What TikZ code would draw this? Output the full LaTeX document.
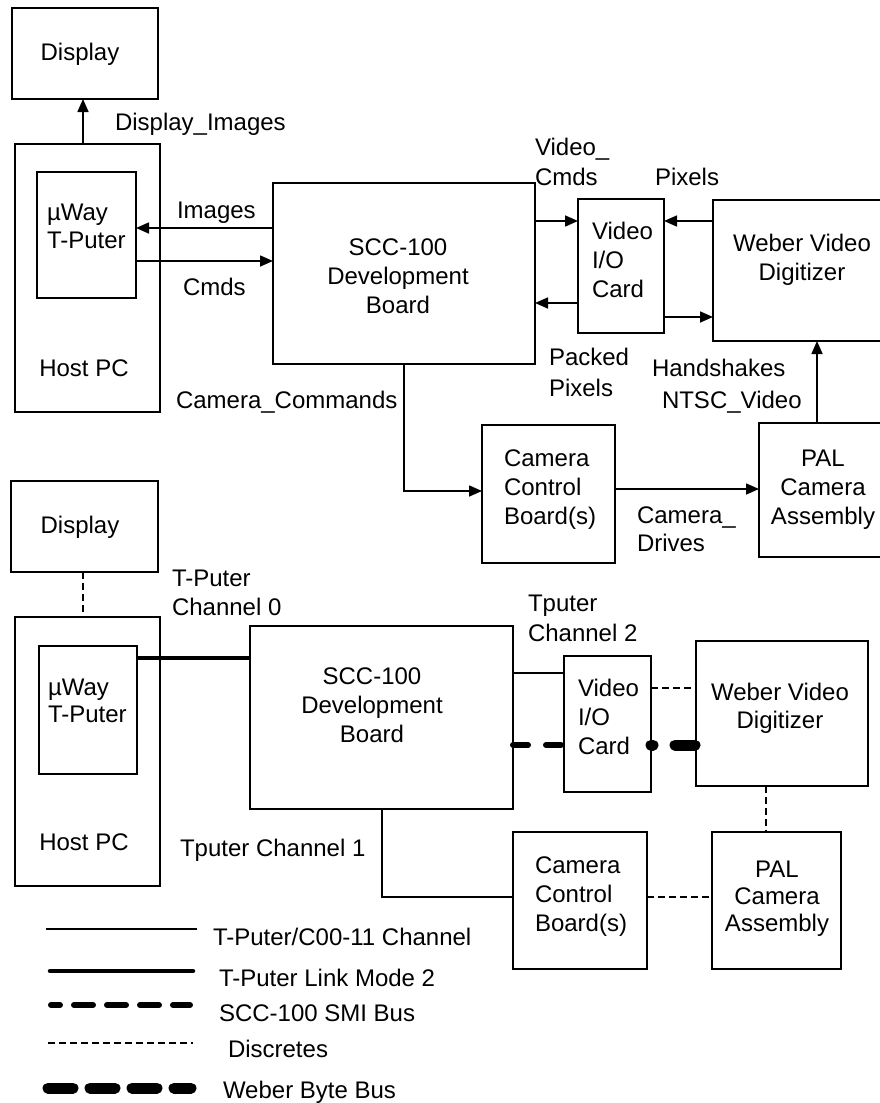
\documentclass[tikz,border=0pt]{standalone}
\usepackage{fontspec}
\setmainfont{Liberation Sans}
\usetikzlibrary{arrows.meta}
\begin{document}
\begin{tikzpicture}[x=1pt,y=-1pt,
  box/.style={draw, line width=1.8pt, inner sep=0pt, outer sep=0pt},
  lbl/.style={inner sep=0pt, outer sep=0pt, font=\fontsize{24}{29}\selectfont},
  arr/.style={line width=1.6pt, -{Triangle[length=13pt,width=11pt]}},
  chan/.style={line width=1.6pt},
  link/.style={line width=4.5pt},
  smi/.style={line width=6pt, line cap=round},
  disc/.style={line width=1.6pt, dash pattern=on 7pt off 4pt},
  wbb/.style={line width=11pt, line cap=round}
]
\useasboundingbox (0,0) rectangle (880,1103);

% ---------------- top diagram boxes
\node[box, minimum width=146pt, minimum height=91pt] (disp1) at (85,53.5) {};
\node[box, minimum width=145pt, minimum height=268pt] (host1) at (87.5,278) {};
\node[box, minimum width=99pt, minimum height=126pt] (tp1) at (86.5,235) {};
\node[box, minimum width=262pt, minimum height=181pt] (scc1) at (404,273.5) {};
\node[box, minimum width=86pt, minimum height=134pt] (vio1) at (621,266) {};
\node[box, minimum width=177pt, minimum height=141pt] (web1) at (801.5,270.5) {};
\node[box, minimum width=133pt, minimum height=138pt] (ccb1) at (548.5,494) {};
\node[box, minimum width=131pt, minimum height=134pt] (pal1) at (824.5,490) {};

% top texts (base = baseline of last line)
\node[lbl, anchor=base] (tdisp1) at (80,60) {Display};
\node[lbl, anchor=base] (thost1) at (84,376) {Host PC};
\node[lbl, anchor=base west, align=left, font=\fontsize{24}{28}\selectfont] (ttp1) at (47,248) {µWay\\T-Puter};
\node[lbl, anchor=base, align=center] (tscc1) at (398,313) {SCC-100\\Development\\Board};
\node[lbl, anchor=base west, align=left] (tvio1) at (592,297) {Video\\I/O\\Card};
\node[lbl, anchor=base, align=center] (tweb1) at (802,280) {Weber Video\\Digitizer};
\node[lbl, anchor=base west, align=left] (tccb1) at (504,524) {Camera\\Control\\Board(s)};
\node[lbl, anchor=base, align=center] (tpal1) at (823,524) {PAL\\Camera\\Assembly};

\node[lbl, anchor=base west] (lDI) at (115,130) {Display\_Images};
\node[lbl, anchor=base west] (lIm) at (177,218) {Images};
\node[lbl, anchor=base west] (lCm) at (183,295) {Cmds};
\node[lbl, anchor=base west, align=left, font=\fontsize{24}{30}\selectfont] (lVC) at (535,185) {Video\_\\Cmds};
\node[lbl, anchor=base west] (lPx) at (655,185) {Pixels};
\node[lbl, anchor=base west, align=left, font=\fontsize{24}{31}\selectfont] (lPP) at (549,396) {Packed\\Pixels};
\node[lbl, anchor=base west] (lHs) at (652,376) {Handshakes};
\node[lbl, anchor=base west] (lNT) at (662,408) {NTSC\_Video};
\node[lbl, anchor=base west] (lCC) at (176,408) {Camera\_Commands};
\node[lbl, anchor=base west, align=left, font=\fontsize{24}{28}\selectfont] (lCD) at (637,551) {Camera\_\\Drives};

% top connectors
\draw[arr] (83,0 |- host1.north) -- (83,0 |- disp1.south);
\draw[arr] (scc1.west |- 0,228) -- (tp1.east |- 0,228);
\draw[arr] (tp1.east |- 0,261) -- (scc1.west |- 0,261);
\draw[arr] (scc1.east |- 0,221) -- (vio1.west |- 0,221);
\draw[arr] (web1.west |- 0,221) -- (vio1.east |- 0,221);
\draw[arr] (vio1.west |- 0,303) -- (scc1.east |- 0,303);
\draw[arr] (vio1.east |- 0,317) -- (web1.west |- 0,317);
\draw[arr] (404,0 |- scc1.south) |- (ccb1.west |- 0,491);
\draw[arr] (ccb1.east |- 0,489) -- (pal1.west |- 0,489);
\draw[arr] (817,0 |- pal1.north) -- (817,0 |- web1.south);

% ---------------- bottom diagram boxes
\node[box, minimum width=147pt, minimum height=91pt] (disp2) at (84.5,526.5) {};
\node[box, minimum width=145pt, minimum height=269pt] (host2) at (87.5,751.5) {};
\node[box, minimum width=98pt, minimum height=128pt] (tp2) at (88,710) {};
\node[box, minimum width=263pt, minimum height=183pt] (scc2) at (381.5,717.5) {};
\node[box, minimum width=87pt, minimum height=136pt] (vio2) at (607.5,724) {};
\node[box, minimum width=172pt, minimum height=145pt] (web2) at (782,713.5) {};
\node[box, minimum width=134pt, minimum height=137pt] (ccb2) at (580,900.5) {};
\node[box, minimum width=129pt, minimum height=137pt] (pal2) at (776.5,900.5) {};

% bottom texts
\node[lbl, anchor=base] (tdisp2) at (80,533) {Display};
\node[lbl, anchor=base] (thost2) at (84,850) {Host PC};
\node[lbl, anchor=base west, align=left, font=\fontsize{24}{27}\selectfont] (ttp2) at (48,722) {µWay\\T-Puter};
\node[lbl, anchor=base, align=center] (tscc2) at (372,742) {SCC-100\\Development\\Board};
\node[lbl, anchor=base west, align=left] (tvio2) at (578,754) {Video\\I/O\\Card};
\node[lbl, anchor=base, align=center, font=\fontsize{24}{28}\selectfont] (tweb2) at (780,728) {Weber Video\\Digitizer};
\node[lbl, anchor=base west, align=left] (tccb2) at (535,931) {Camera\\Control\\Board(s)};
\node[lbl, anchor=base, align=center, font=\fontsize{24}{27}\selectfont] (tpal2) at (777,931) {PAL\\Camera\\Assembly};

\node[lbl, anchor=base west, align=left] (lT0) at (172,615) {T-Puter\\Channel 0};
\node[lbl, anchor=base west, align=left, font=\fontsize{24}{30}\selectfont] (lT2) at (528,641) {Tputer\\Channel 2};
\node[lbl, anchor=base west] (lT1) at (180,856) {Tputer Channel 1};

% bottom connectors
\draw[disc] (83,0 |- disp2.south) -- (83,0 |- host2.north);
\draw[link] (tp2.east |- 0,658) -- (scc2.west |- 0,658);
\draw[chan] (scc2.east |- 0,673) -- (vio2.west |- 0,673);
\draw[smi, dash pattern=on 15pt off 18pt on 15pt off 100pt] (scc2.east |- 0,745) -- (vio2.west |- 0,745);
\draw[disc] (vio2.east |- 0,688) -- (web2.west |- 0,688);
\draw[wbb, dash pattern=on 2pt off 22pt on 20pt off 100pt] (vio2.east |- 0,745) -- (web2.west |- 0,745);
\draw[disc] (766,0 |- web2.south) -- (766,0 |- pal2.north);
\draw[chan] (382,0 |- scc2.south) |- (ccb2.west |- 0,897);
\draw[disc] (ccb2.east |- 0,897) -- (pal2.west |- 0,897);

% ---------------- legend
\coordinate (g1a) at (46,929);  \coordinate (g1b) at (197,929);
\coordinate (g2a) at (50,971);  \coordinate (g2b) at (193,971);
\coordinate (g3a) at (51,1005); \coordinate (g3b) at (190,1005);
\coordinate (g4a) at (48,1043); \coordinate (g4b) at (193,1043);
\coordinate (g5a) at (48,1088); \coordinate (g5b) at (191,1088);
\draw[chan] (g1a) -- (g1b);
\draw[link, line cap=round] (g2a) -- (g2b);
\draw[smi, dash pattern=on 19pt off 14pt, dash phase=10pt] (g3a) -- (g3b);
\draw[disc] (g4a) -- (g4b);
\draw[wbb, dash pattern=on 25pt off 17pt] (g5a) -- (g5b);
\node[lbl, anchor=base west] (k1) at (213,945) {T-Puter/C00-11 Channel};
\node[lbl, anchor=base west] (k2) at (219,986) {T-Puter Link Mode 2};
\node[lbl, anchor=base west] (k3) at (219,1021) {SCC-100 SMI Bus};
\node[lbl, anchor=base west] (k4) at (228,1057) {Discretes};
\node[lbl, anchor=base west] (k5) at (223,1098) {Weber Byte Bus};
\end{tikzpicture}
\end{document}
